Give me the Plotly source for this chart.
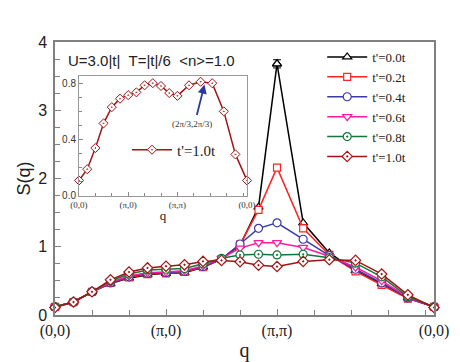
import plotly.graph_objects as go

# path (0,0)->(pi,0)->(pi,pi)->(0,0), distance in units of pi/6
q_path = [0, 1, 2, 3, 4, 5, 6, 7, 8, 9, 10, 11, 12,
          13.414, 14.828, 16.243, 17.657, 19.071, 20.485]
tick_pos = [0, 6, 12, 20.485]
tick_txt = ["(0,0)", "(\u03c0,0)", "(\u03c0,\u03c0)", "(0,0)"]

s_t00 = [0.12, 0.19, 0.34, 0.46, 0.54, 0.59, 0.61, 0.62, 0.70, 0.82, 1.02, 1.58, 3.68, 1.35, 0.91, 0.65, 0.46, 0.25, 0.12]
s_t02 = [0.12, 0.19, 0.34, 0.47, 0.55, 0.60, 0.61, 0.63, 0.70, 0.82, 1.03, 1.54, 2.16, 1.27, 0.88, 0.64, 0.44, 0.24, 0.12]
s_t04 = [0.12, 0.19, 0.34, 0.47, 0.56, 0.61, 0.62, 0.64, 0.71, 0.82, 1.04, 1.27, 1.35, 1.11, 0.87, 0.67, 0.47, 0.25, 0.12]
s_t06 = [0.12, 0.19, 0.34, 0.48, 0.57, 0.62, 0.63, 0.65, 0.72, 0.83, 0.98, 1.06, 1.06, 0.99, 0.86, 0.70, 0.50, 0.26, 0.12]
s_t08 = [0.12, 0.19, 0.34, 0.50, 0.60, 0.66, 0.67, 0.68, 0.75, 0.83, 0.88, 0.89, 0.88, 0.89, 0.84, 0.76, 0.56, 0.27, 0.12]
s_t10 = [0.11, 0.19, 0.34, 0.515, 0.63, 0.69, 0.715, 0.735, 0.785, 0.80, 0.78, 0.73, 0.71, 0.785, 0.81, 0.80, 0.60, 0.295, 0.11]
peak_err = 0.06

names = ["t'=0.0t", "t'=0.2t", "t'=0.4t", "t'=0.6t", "t'=0.8t", "t'=1.0t"]
series = [s_t00, s_t02, s_t04, s_t06, s_t08, s_t10]
colors = ["#000000", "#ff2222", "#3a3aa8", "#ff1aa0", "#11773a", "#a01414"]
symbols = ["triangle-up", "square", "circle", "triangle-down", "circle-dot", "diamond-dot"]
sizes = [8, 7, 8, 8, 8, 8]

SERIF = "Liberation Serif, Times New Roman, serif"
SANS = "Liberation Sans, Arial, sans-serif"

fig = go.Figure()
for nm, ys, c, sym, sz in zip(names, series, colors, symbols, sizes):
    fig.add_trace(go.Scatter(x=q_path, y=ys, name=nm, mode="lines+markers",
                             line=dict(color=c, width=1.5),
                             marker=dict(symbol=sym, size=sz, color="white",
                                         line=dict(color=c, width=1.2)),
                             cliponaxis=False))

# error bar on the peak of t'=0.0t
fig.add_trace(go.Scatter(x=[q_path[12]], y=[s_t00[12]], mode="markers", showlegend=False,
                         marker=dict(symbol="triangle-up", size=8, color="white",
                                     line=dict(color="black", width=1.2)),
                         error_y=dict(type="data", array=[peak_err], color="black",
                                      thickness=1, width=4),
                         cliponaxis=False))

# inset
fig.add_trace(go.Scatter(x=q_path, y=s_t10, name="t'=1.0t", mode="lines+markers",
                         xaxis="x2", yaxis="y2", legend="legend2",
                         line=dict(color="#a01414", width=1.5),
                         marker=dict(symbol="diamond-dot", size=7, color="white",
                                     line=dict(color="#a01414", width=1)),
                         cliponaxis=False))

axcol = "#808080"
fig.update_layout(
    width=452, height=354,
    margin=dict(l=47, r=26, t=34, b=47),
    paper_bgcolor="white", plot_bgcolor="white",
    xaxis=dict(range=[0, 20.485], tickvals=tick_pos, ticktext=tick_txt,
               ticks="inside", ticklen=6, tickcolor=axcol, automargin=False,
               minor=dict(dtick=2, tick0=0, ticks="inside", ticklen=5, tickcolor=axcol),
               showline=True, linecolor=axcol, linewidth=1.5, mirror=True,
               showgrid=False, zeroline=False,
               tickfont=dict(family=SERIF, size=16, color="#222"),
               title=dict(text="q", font=dict(family=SERIF, size=20, color="#222"), standoff=4)),
    yaxis=dict(range=[0, 4], dtick=1, ticks="inside", ticklen=6, tickcolor=axcol, automargin=False,
               ticklabelstandoff=3,
               minor=dict(dtick=0.25, ticks="inside", ticklen=5, tickcolor=axcol),
               showline=True, linecolor=axcol, linewidth=1.5, mirror=True,
               showgrid=False, zeroline=False,
               tickfont=dict(family=SANS, size=16, color="#222"),
               title=dict(text="S(q)", font=dict(family=SANS, size=18, color="#222"), standoff=3)),
    xaxis2=dict(domain=[0.0633, 0.5066], anchor="y2", range=[0, 20.485],
                tickvals=tick_pos, ticktext=tick_txt, automargin=False,
                ticks="inside", ticklen=4, tickcolor="#888",
                minor=dict(dtick=2, tick0=0, ticks="inside", ticklen=3, tickcolor="#888"),
                showline=True, linecolor="#999", linewidth=1, mirror=True,
                showgrid=False, zeroline=False,
                tickfont=dict(family=SERIF, size=9, color="#333"),
                title=dict(text="q", font=dict(family=SERIF, size=13, color="#222"), standoff=2)),
    yaxis2=dict(domain=[0.436, 0.875], anchor="x2", range=[0, 0.85],
                tickvals=[0, 0.4, 0.8], ticktext=["0.0", "0.4", "0.8"], automargin=False,
                ticks="inside", ticklen=4, tickcolor="#888",
                minor=dict(dtick=0.1, ticks="inside", ticklen=3, tickcolor="#888"),
                showline=True, linecolor="#999", linewidth=1, mirror=True,
                showgrid=False, zeroline=False,
                tickfont=dict(family=SANS, size=10, color="#333")),
    legend=dict(x=0.705, y=1.0, xanchor="left", yanchor="top", itemwidth=40,
                bgcolor="rgba(0,0,0,0)", font=dict(family=SERIF, size=13, color="#222"),
                tracegroupgap=0),
    legend2=dict(x=0.19, y=0.665, xanchor="left", yanchor="top", itemwidth=40,
                 bgcolor="rgba(0,0,0,0)", font=dict(family=SERIF, size=15, color="#222")),
    showlegend=True,
)

fig.add_annotation(xref="paper", yref="paper", x=0.028, y=0.932, xanchor="left", yanchor="middle",
                   text="U=3.0|t|  T=|t|/6  &lt;n&gt;=1.0", showarrow=False,
                   font=dict(family=SANS, size=15, color="#222"))
fig.add_annotation(xref="x2", yref="y2", x=15.3, y=0.79, ax=-8, ay=32,
                   axref="pixel", ayref="pixel", text="", showarrow=True,
                   arrowhead=2, arrowsize=1, arrowwidth=1.8, arrowcolor="#2a3a9c")
fig.add_annotation(xref="x2", yref="y2", x=13.74, y=0.51, text="(2\u03c0/3,2\u03c0/3)",
                   showarrow=False, font=dict(family=SERIF, size=9, color="#333"))

fig.write_html("out.html")
